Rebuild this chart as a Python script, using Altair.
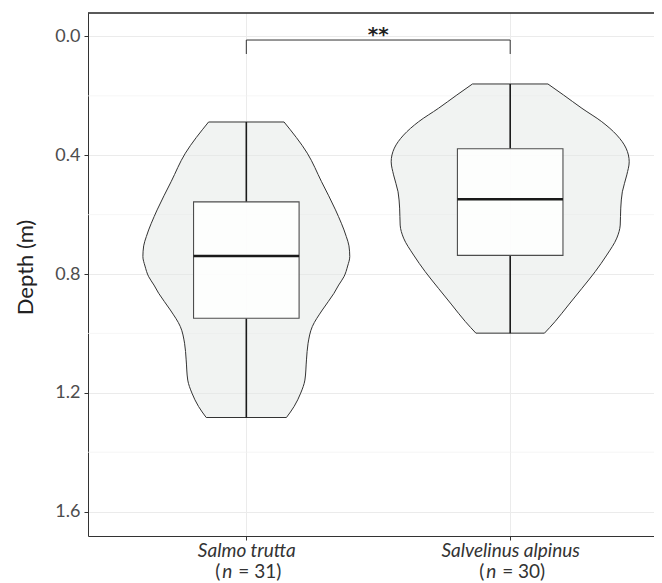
import altair as alt
import pandas as pd

# ---------------- data ----------------
species = ["Salmo trutta", "Salvelinus alpinus"]
n_obs = [31, 30]

# violin outlines (depth in m, half-width in x-axis units)
v1_depth = [0.288, 0.393, 0.489, 0.584, 0.674, 0.705, 0.741, 0.773, 0.809, 0.837,
            0.865, 0.921, 0.977, 1.033, 1.089, 1.157, 1.201, 1.246, 1.283]
v1_half = [0.143, 0.231, 0.285, 0.338, 0.379, 0.389, 0.392, 0.384, 0.370, 0.350,
           0.332, 0.288, 0.250, 0.234, 0.228, 0.222, 0.206, 0.181, 0.152]
v2_depth = [0.160, 0.197, 0.242, 0.287, 0.332, 0.376, 0.422, 0.466, 0.523, 0.578,
            0.635, 0.679, 0.736, 0.792, 0.848, 0.904, 0.960, 0.999]
v2_half = [0.143, 0.202, 0.272, 0.347, 0.404, 0.439, 0.451, 0.442, 0.425, 0.419,
           0.417, 0.404, 0.366, 0.322, 0.272, 0.221, 0.170, 0.130]

# boxplot statistics
box_min = [0.288, 0.160]
box_q1 = [0.557, 0.378]
box_med = [0.739, 0.548]
box_q3 = [0.949, 0.737]
box_max = [1.283, 0.999]

# significance bracket
bracket_pos = [1, 2]
bracket_top = 0.012
bracket_foot = 0.059
signif_label = "**"
signif_depth = 0.014

y_ticks = [0.0, 0.4, 0.8, 1.2, 1.6]
y_minor = [0.2, 0.6, 1.0, 1.4]

# ---------------- tables ----------------
violin_rows = []
for i, (dd, hh) in enumerate([(v1_depth, v1_half), (v2_depth, v2_half)]):
    for d, h in zip(dd, hh):
        violin_rows.append({"species": species[i], "pos": i + 1, "depth": d, "half": h})
violin_df = pd.DataFrame(violin_rows)

box_df = pd.DataFrame({
    "species": species, "pos": [1, 2], "n": n_obs,
    "min": box_min, "q1": box_q1, "med": box_med, "q3": box_q3, "max": box_max,
})
minor_df = pd.DataFrame({"v": y_minor})
bracket_df = pd.DataFrame({"pos": bracket_pos, "top": [bracket_top] * 2, "foot": [bracket_foot] * 2})
bracket_h_df = pd.DataFrame({"a": [bracket_pos[0]], "b": [bracket_pos[1]], "top": [bracket_top],
                             "mid": [(bracket_pos[0] + bracket_pos[1]) / 2],
                             "lab": [signif_label], "ly": [signif_depth]})

W, H = 566, 523
FONT = "Lato"
LAB = 19
x_scale = alt.Scale(domain=[0.4, 2.545], nice=False, zero=False)
y_scale = alt.Scale(domain=[-0.079, 1.682], reverse=True, nice=False, zero=False)

label_expr = " : ".join(
    [f"datum.value == {i + 1} ? '{s}'" for i, s in enumerate(species[:-1])] + [f"'{species[-1]}'"]
)

x_axis = alt.Axis(values=[1, 2], labelExpr=label_expr, title=None, labelFont=FONT,
                  labelFontStyle="italic", labelFontSize=LAB, labelColor="#333333",
                  labelPadding=1, tickSize=4, tickColor="#333333", domainColor="#333333",
                  grid=True, gridColor="#ebebeb", gridWidth=1)
y_axis = alt.Axis(values=y_ticks, format=".1f", title="Depth (m)", labelFont=FONT,
                  labelFontSize=18, labelColor="#4d4d4d", labelPadding=4, tickSize=4,
                  tickColor="#333333", domainColor="#333333", grid=True,
                  gridColor="#ebebeb", gridWidth=1, titleFont=FONT, titleFontSize=22,
                  titleFontWeight="normal", titleColor="#222222", titleX=-63, titleY=254,
                  titleAlign="center", titleBaseline="middle")


def X(field):
    return alt.X(field, scale=x_scale, axis=x_axis)


def Y(field):
    return alt.Y(field, scale=y_scale, axis=y_axis)


minor = alt.Chart(minor_df).mark_rule(color="#f2f2f2", strokeWidth=0.7).encode(y=Y("v:Q"))

violin = alt.Chart(violin_df).transform_calculate(
    left="datum.pos - datum.half", right="datum.pos + datum.half"
).mark_area(orient="horizontal", interpolate="monotone", fill="#e3e8e6", fillOpacity=0.5,
            stroke="#333333", strokeWidth=1).encode(
    y=Y("depth:Q"), x=X("left:Q"), x2="right:Q", detail="species:N",
)

whisk_lo = alt.Chart(box_df).mark_rule(color="#1a1a1a", strokeWidth=1.6).encode(
    x=X("pos:Q"), y=Y("min:Q"), y2="q1:Q")
whisk_hi = alt.Chart(box_df).mark_rule(color="#1a1a1a", strokeWidth=1.6).encode(
    x=X("pos:Q"), y=Y("q3:Q"), y2="max:Q")

box = alt.Chart(box_df).transform_calculate(
    bl="datum.pos - 0.2", br="datum.pos + 0.2"
).mark_rect(fill="#ffffff", fillOpacity=0.85, stroke="#4d4d4d", strokeWidth=1.1).encode(
    x=X("bl:Q"), x2="br:Q", y=Y("q1:Q"), y2="q3:Q")

median = alt.Chart(box_df).transform_calculate(
    bl="datum.pos - 0.2", br="datum.pos + 0.2"
).mark_rule(color="#1a1a1a", strokeWidth=2.6).encode(
    x=X("bl:Q"), x2="br:Q", y=Y("med:Q"))

br_feet = alt.Chart(bracket_df).mark_rule(color="#333333", strokeWidth=1).encode(
    x=X("pos:Q"), y=Y("top:Q"), y2="foot:Q")
br_bar = alt.Chart(bracket_h_df).mark_rule(color="#333333", strokeWidth=1).encode(
    x=X("a:Q"), x2="b:Q", y=Y("top:Q"))
br_text = alt.Chart(bracket_h_df).mark_text(font="DejaVu Sans", fontWeight="bold", fontSize=20,
                                            color="#222222", baseline="alphabetic").encode(
    x=X("mid:Q"), y=Y("ly:Q"), text="lab:N")

top_border = alt.Chart(box_df).mark_rule(color="#222222", strokeWidth=1).encode(
    y=alt.value(0))

# second line of the x labels: "(n = 31)" with italic n
line2_y = H + 36
n_open = alt.Chart(box_df).mark_text(font=FONT, fontSize=LAB, color="#333333", align="left",
                                     baseline="middle", dx=-31).encode(
    x=X("pos:Q"), y=alt.value(line2_y), text=alt.value("("))
n_ital = alt.Chart(box_df).mark_text(font=FONT, fontSize=LAB, fontStyle="italic", color="#333333",
                                     align="left", baseline="middle", dx=-24).encode(
    x=X("pos:Q"), y=alt.value(line2_y), text=alt.value("n"))
n_rest = alt.Chart(box_df).transform_calculate(
    t="'= ' + datum.n + ')'"
).mark_text(font=FONT, fontSize=LAB, color="#333333", align="left", baseline="middle",
            dx=-8).encode(
    x=X("pos:Q"), y=alt.value(line2_y), text="t:N")

chart = alt.layer(
    minor, violin, whisk_lo, whisk_hi, box, median, br_feet, br_bar, br_text, top_border,
    n_open, n_ital, n_rest
).properties(
    width=W, height=H,
    autosize=alt.AutoSizeParams(type="none"),
    padding={"left": 80, "top": 5, "right": 0, "bottom": 47},
).configure_view(stroke=None).configure_axis(labelFont=FONT)

chart.save("out.html", embed_options={"renderer": "svg", "actions": False})
